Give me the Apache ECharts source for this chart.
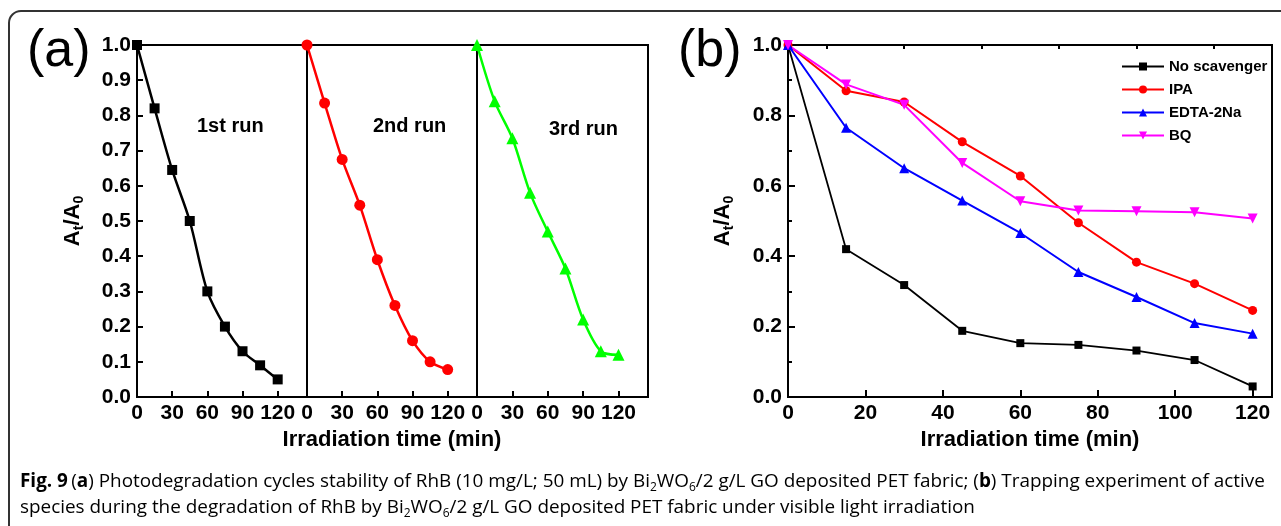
<!DOCTYPE html>
<html>
<head>
<meta charset="utf-8">
<script src="https://cdn.jsdelivr.net/npm/echarts@6/dist/echarts.min.js"></script>
<style>
  html, body { margin: 0; padding: 0; background: #fff; }
  #chart { width: 1281px; height: 526px; }
</style>
</head>
<body>
<div id="chart"></div>
<script>
// time points (min)
var times = [0, 15, 30, 45, 60, 75, 90, 105, 120];

// (a) cycle runs
var run1 = [1.0, 0.82, 0.645, 0.50, 0.30, 0.20, 0.13, 0.09, 0.05];
var run2 = [1.0, 0.835, 0.675, 0.545, 0.39, 0.26, 0.16, 0.10, 0.078];
var run3 = [1.0, 0.84, 0.735, 0.58, 0.47, 0.365, 0.22, 0.13, 0.12];
var runNames = ['1st run', '2nd run', '3rd run'];

// (b) scavengers
var noScavenger = [1.0, 0.42, 0.318, 0.188, 0.153, 0.148, 0.132, 0.105, 0.03];
var ipa = [1.0, 0.87, 0.838, 0.725, 0.628, 0.495, 0.383, 0.322, 0.246];
var edta = [1.0, 0.765, 0.65, 0.558, 0.466, 0.355, 0.284, 0.21, 0.18];
var bq = [1.0, 0.888, 0.83, 0.665, 0.556, 0.53, 0.528, 0.525, 0.507];
var legendNames = ['No scavenger', 'IPA', 'EDTA-2Na', 'BQ'];

var ticksA = [0, 30, 60, 90, 120];
var ticksB = [0, 20, 40, 60, 80, 100, 120];
var minorB = [10, 30, 50, 70, 90, 110];

var FONT = '"Liberation Sans", Arial, sans-serif';

function pairs(vals) {
    return times.map(function (t, i) { return [t, vals[i]]; });
}
function fix1(v) { return v.toFixed(1); }

var yName = {
    name: '{n|A}{s|t}{n|/A}{s|0}',
    nameLocation: 'middle',
    nameRotate: 90,
    nameTextStyle: {
        rich: {
            n: { fontFamily: FONT, fontWeight: 'bold', fontSize: 22, lineHeight: 26, color: '#000' },
            s: { fontFamily: FONT, fontWeight: 'bold', fontSize: 14, lineHeight: 14, verticalAlign: 'bottom', color: '#000' }
        }
    }
};

var gridsA = [137, 307, 477];
var grids = gridsA.map(function (l, i) {
    return { left: l, top: 45, width: i == 2 ? 171 : 170, height: 352,
             show: true, borderColor: '#000', borderWidth: 2 };
});
grids.push({ left: 788, top: 45, width: 484, height: 352, show: true, borderColor: '#000', borderWidth: 2 });

var xAxes = [];
var yAxes = [];
gridsA.forEach(function (l, i) {
    xAxes.push({
        type: 'value', gridIndex: i, min: 0, max: 145,
        axisLine: { lineStyle: { color: '#000', width: 2 } },
        axisTick: { inside: true, length: 6, customValues: ticksA, lineStyle: { color: '#000', width: 2 } },
        axisLabel: { customValues: ticksA, color: '#000', fontFamily: FONT, fontWeight: 'bold', fontSize: 21, margin: 6 },
        splitLine: { show: false },
        name: i == 1 ? 'Irradiation time (min)' : '',
        nameLocation: 'middle', nameGap: 32,
        nameTextStyle: { color: '#000', fontFamily: FONT, fontWeight: 'bold', fontSize: 22 }
    });
    var ya = {
        type: 'value', gridIndex: i, min: 0, max: 1, interval: 0.1,
        axisLine: { show: true, lineStyle: { color: '#000', width: 2 } },
        axisTick: { show: i == 0, inside: true, length: 6, lineStyle: { color: '#000', width: 2 } },
        axisLabel: { show: i == 0, formatter: fix1, color: '#000', fontFamily: FONT, fontWeight: 'bold', fontSize: 21, margin: 6 },
        splitLine: { show: false }
    };
    if (i == 0) {
        Object.assign(ya, yName, { nameGap: 51 });
    }
    yAxes.push(ya);
});

// panel (b)
xAxes.push({
    type: 'value', gridIndex: 3, min: 0, max: 125,
    axisLine: { lineStyle: { color: '#000', width: 2 } },
    axisTick: { inside: true, length: 7, customValues: ticksB, lineStyle: { color: '#000', width: 2 } },
    axisLabel: { customValues: ticksB, color: '#000', fontFamily: FONT, fontWeight: 'bold', fontSize: 21, margin: 6 },
    splitLine: { show: false },
    name: 'Irradiation time (min)', nameLocation: 'middle', nameGap: 32,
    nameTextStyle: { color: '#000', fontFamily: FONT, fontWeight: 'bold', fontSize: 22 }
});
// minor ticks of (b)
xAxes.push({
    type: 'value', gridIndex: 3, min: 0, max: 125,
    axisLine: { show: false },
    axisTick: { inside: true, length: 4, customValues: minorB, lineStyle: { color: '#000', width: 2 } },
    axisLabel: { show: false },
    splitLine: { show: false }
});
yAxes.push(Object.assign({
    type: 'value', gridIndex: 3, min: 0, max: 1, interval: 0.2,
    axisLine: { show: true, lineStyle: { color: '#000', width: 2 } },
    axisTick: { inside: true, length: 7, lineStyle: { color: '#000', width: 2 } },
    minorTick: { show: true, splitNumber: 2, length: 4, lineStyle: { color: '#000', width: 2 } },
    axisLabel: { formatter: fix1, color: '#000', fontFamily: FONT, fontWeight: 'bold', fontSize: 21, margin: 6 },
    splitLine: { show: false }
}, yName, { nameGap: 52 }));

var series = [];
var runs = [run1, run2, run3];
var runColors = ['#000000', '#ff0000', '#00ff00'];
var runSymbols = ['rect', 'circle', 'triangle'];
var runSizes = [10, 11, 12];
runs.forEach(function (r, i) {
    series.push({
        name: runNames[i], type: 'line', xAxisIndex: i, yAxisIndex: i,
        data: pairs(r), smooth: 0.3,
        symbol: runSymbols[i], symbolSize: runSizes[i],
        lineStyle: { color: runColors[i], width: 2.5 },
        itemStyle: { color: runColors[i] }
    });
});

var bData = [noScavenger, ipa, edta, bq];
var bColors = ['#000000', '#ff0000', '#0000ff', '#ff00ff'];
var bSymbols = ['rect', 'circle', 'triangle', 'triangle'];
var bSizes = [8, 9, 10, 10];
bData.forEach(function (d, i) {
    series.push({
        name: legendNames[i], type: 'line', xAxisIndex: 3, yAxisIndex: 3,
        data: pairs(d),
        symbol: bSymbols[i], symbolSize: bSizes[i], symbolRotate: i == 3 ? 180 : 0,
        lineStyle: { color: bColors[i], width: i == 0 ? 1.8 : 2 },
        itemStyle: { color: bColors[i] }
    });
});

var capRich = {
    n: { fontFamily: '"Open Sans"', fontSize: 18.9, lineHeight: 24, color: '#222' },
    b: { fontFamily: '"Open Sans"', fontSize: 18.9, lineHeight: 24, fontWeight: 'bold', color: '#222' },
    s: { fontFamily: '"Open Sans"', fontSize: 12, lineHeight: 12, verticalAlign: 'bottom', color: '#222' }
};

var chart = echarts.init(document.getElementById('chart'));
chart.setOption({
    animation: false,
    backgroundColor: '#fff',
    grid: grids,
    xAxis: xAxes,
    yAxis: yAxes,
    legend: {
        data: legendNames, orient: 'vertical', left: 1121, top: 59, padding: 0,
        itemWidth: 42, itemHeight: 10, itemGap: 8,
        textStyle: { color: '#000', fontFamily: FONT, fontWeight: 'bold', fontSize: 15 }
    },
    series: series,
    graphic: [
        { type: 'rect', silent: true, shape: { x: 9, y: 11, width: 1320, height: 620, r: 12 },
          style: { fill: 'none', stroke: '#333', lineWidth: 2 } },
        { type: 'text', x: 27, y: 52, style: { text: '(a)', fontFamily: FONT, fontSize: 52, fill: '#000', verticalAlign: 'middle' } },
        { type: 'text', x: 678, y: 52, style: { text: '(b)', fontFamily: FONT, fontSize: 52, fill: '#000', verticalAlign: 'middle' } },
        { type: 'text', x: 197, y: 126, style: { text: runNames[0], fontFamily: FONT, fontWeight: 'bold', fontSize: 20, fill: '#000', verticalAlign: 'middle' } },
        { type: 'text', x: 373, y: 126, style: { text: runNames[1], fontFamily: FONT, fontWeight: 'bold', fontSize: 20, fill: '#000', verticalAlign: 'middle' } },
        { type: 'text', x: 549, y: 129, style: { text: runNames[2], fontFamily: FONT, fontWeight: 'bold', fontSize: 20, fill: '#000', verticalAlign: 'middle' } },
        { type: 'text', x: 20, y: 482, style: {
            text: '{b|Fig. 9} {n|(}{b|a}{n|) Photodegradation cycles stability of RhB (10 mg/L; 50 mL) by Bi}{s|2}{n|WO}{s|6}{n|/2 g/L GO deposited PET fabric; (}{b|b}{n|) Trapping experiment of active}',
            rich: capRich, verticalAlign: 'middle' } },
        { type: 'text', x: 20, y: 508, style: {
            text: '{n|species during the degradation of RhB by Bi}{s|2}{n|WO}{s|6}{n|/2 g/L GO deposited PET fabric under visible light irradiation}',
            rich: capRich, verticalAlign: 'middle' } }
    ]
});
</script>
</body>
</html>
